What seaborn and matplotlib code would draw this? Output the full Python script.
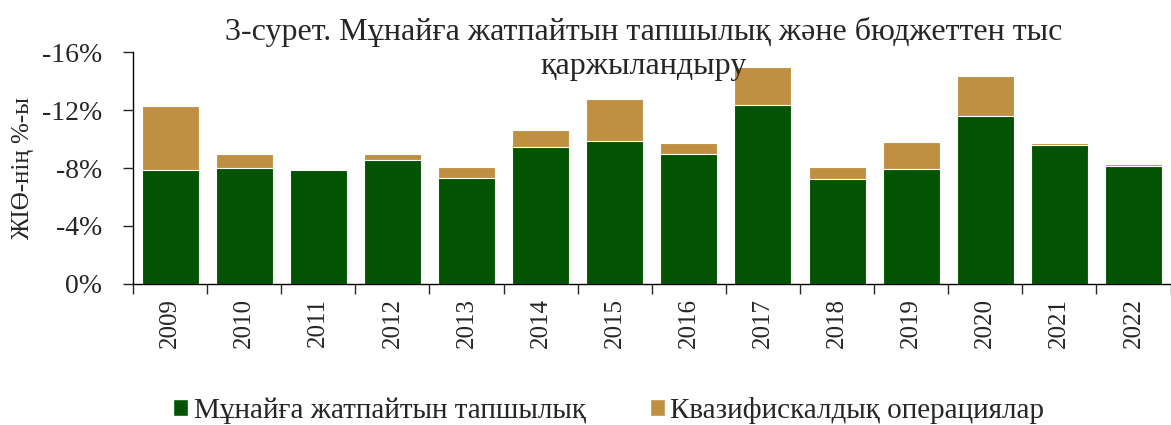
import numpy as np
import pandas as pd
import seaborn as sns
import matplotlib.pyplot as plt
from matplotlib.patches import Patch
from matplotlib.ticker import FixedLocator, FuncFormatter

years = ['2009', '2010', '2011', '2012', '2013', '2014', '2015',
         '2016', '2017', '2018', '2019', '2020', '2021', '2022']
# % of GDP, negative = deficit
non_oil = [-7.9, -8.0, -7.85, -8.55, -7.3, -9.45, -9.85,
           -9.0, -12.35, -7.25, -7.95, -11.6, -9.6, -8.15]
quasi = [-4.4, -1.0, 0.0, -0.45, -0.75, -1.2, -2.95,
         -0.75, -2.6, -0.85, -1.85, -2.75, -0.15, -0.15]

green = '#025402'
tan = '#BF9042'

sns.set_style('white')
plt.rcParams['font.family'] = ['Liberation Serif', 'DejaVu Serif']

df = pd.DataFrame({'year': years, 'non_oil': non_oil, 'quasi': quasi})
df['total'] = df['non_oil'] + df['quasi']

fig = plt.figure(figsize=(11.71, 4.25), dpi=100)
ax = fig.add_axes([0.1136, 0.332, 0.886, 0.545])

sns.barplot(data=df, x='year', y='total', color=tan, saturation=1,
            width=0.77, edgecolor='white', linewidth=0.8, ax=ax)
sns.barplot(data=df, x='year', y='non_oil', color=green, saturation=1,
            width=0.77, edgecolor='white', linewidth=0.8, ax=ax)

ax.set_ylim(0, -16)
ax.set_xlim(-0.5, len(years) - 0.5)
ax.set_yticks([0, -4, -8, -12, -16])
ax.yaxis.set_major_formatter(FuncFormatter(lambda v, p: f'{int(round(v))}%'))
ax.tick_params(axis='y', labelsize=20, length=7, width=1, direction='out',
               left=True, pad=15)

# year labels centred, tick marks between categories
ax.set_xticks(range(len(years)))
ax.set_xticklabels(years, rotation=90, fontsize=18)
ax.tick_params(axis='x', which='major', length=0, pad=10)
ax.xaxis.set_minor_locator(FixedLocator(np.arange(-0.5, len(years), 1.0)))
ax.tick_params(axis='x', which='minor', length=7, width=1, direction='out',
               bottom=True)

ax.set_xlabel('')
ax.set_ylabel('ЖІӨ-нің %-ы', fontsize=18, labelpad=6)

for s in ['top', 'right']:
    ax.spines[s].set_visible(False)
for s in ['left', 'bottom']:
    ax.spines[s].set_color('black')
    ax.spines[s].set_linewidth(1)

fig.text(0.55, 0.885, '3-сурет. Мұнайға жатпайтын тапшылық және бюджеттен тыс\nқаржыландыру',
         ha='center', va='center', fontsize=23, linespacing=1.25)

handles = [Patch(facecolor=green, label='Мұнайға жатпайтын тапшылық'),
           Patch(facecolor=tan, label='Квазифискалдық операциялар')]
fig.legend(handles=handles, loc='center', bbox_to_anchor=(0.52, 0.035),
           ncol=2, frameon=False, fontsize=21, handlelength=0.5,
           handleheight=0.5, handletextpad=0.2, columnspacing=2.2,
           borderpad=0)

fig.savefig('out.png', dpi=100)
